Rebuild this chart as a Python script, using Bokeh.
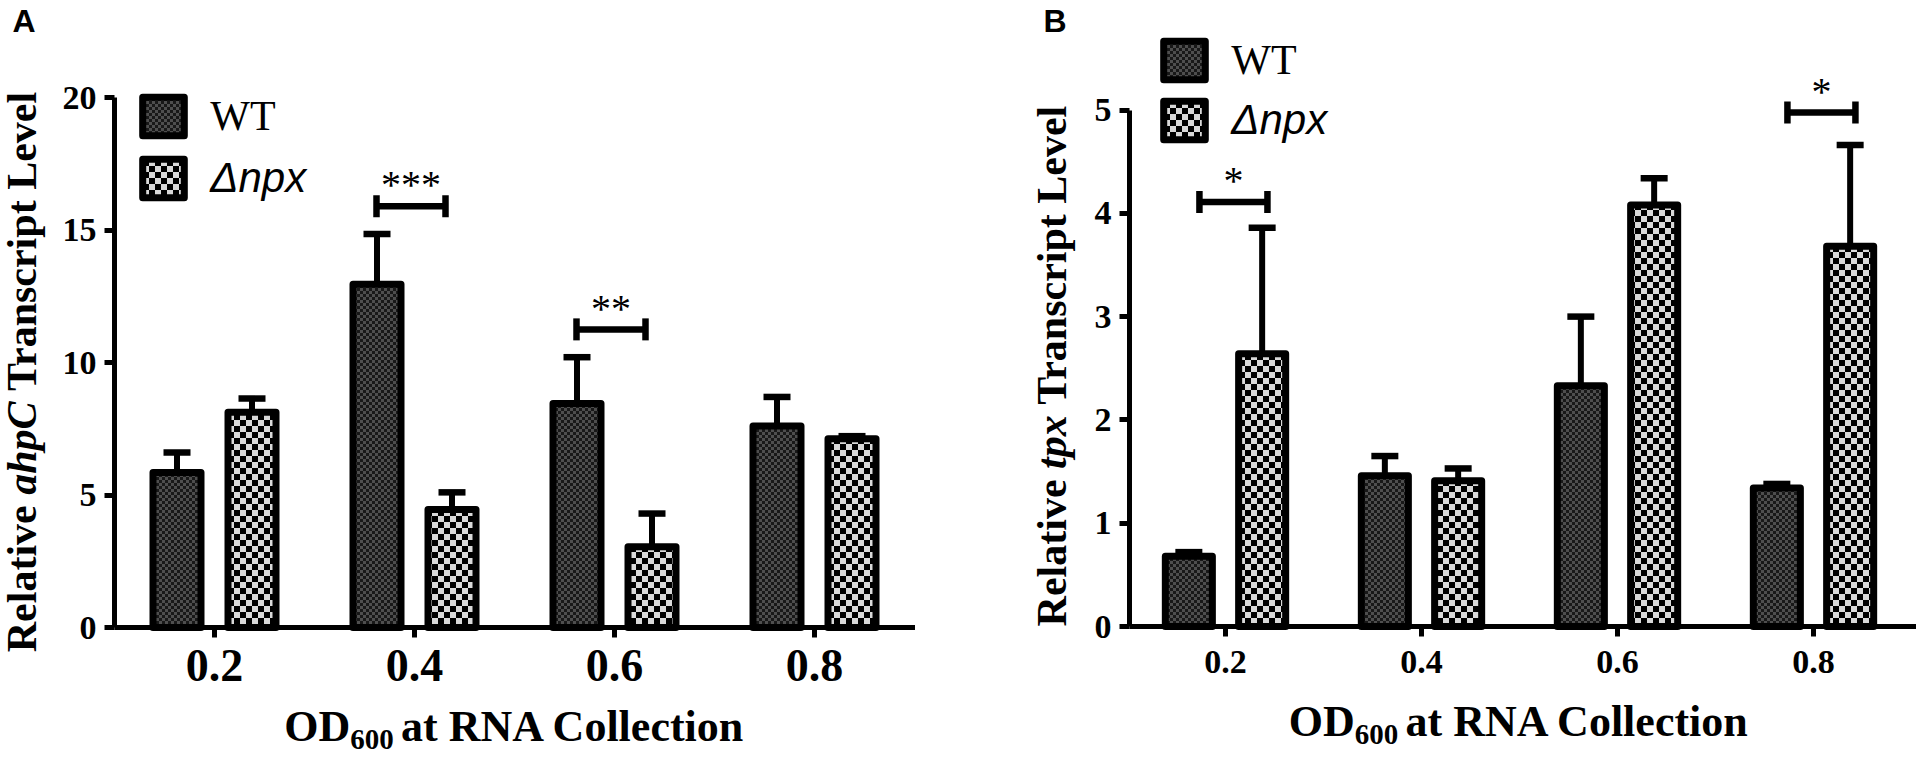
import math
import zlib
import struct
import base64
from bokeh.plotting import figure
from bokeh.models import Range1d, FixedTicker, Label, Legend, LegendItem, ImageURLTexture
from bokeh.layouts import row
from bokeh.core.properties import value
from bokeh.embed import file_html
from bokeh.resources import INLINE

# ---------------- data ----------------
od_labels = ["0.2", "0.4", "0.6", "0.8"]

# Panel A : relative ahpC transcript level
ahpc_wt_mean = [5.85, 12.95, 8.45, 7.6]
ahpc_wt_sem = [0.75, 1.9, 1.75, 1.1]
ahpc_npx_mean = [8.12, 4.45, 3.05, 7.12]
ahpc_npx_sem = [0.52, 0.65, 1.25, 0.1]
ahpc_sig_cat = [1, 2]
ahpc_sig_y = [15.9, 11.25]
ahpc_sig_text = ["***", "**"]

# Panel B : relative tpx transcript level
tpx_wt_mean = [0.68, 1.46, 2.33, 1.34]
tpx_wt_sem = [0.04, 0.19, 0.67, 0.04]
tpx_npx_mean = [2.64, 1.41, 4.08, 3.68]
tpx_npx_sem = [1.22, 0.12, 0.26, 0.98]
tpx_sig_cat = [0, 3]
tpx_sig_y = [4.11, 4.975]
tpx_sig_text = ["*", "*"]

# ---------------- font metrics (Times-like, per 1000 em) ----------------
BOLD = {' ': 250, 'R': 722, 'e': 444, 'l': 278, 'a': 500, 't': 333, 'i': 278, 'v': 500,
        'T': 667, 'r': 444, 'n': 556, 's': 389, 'c': 444, 'p': 556, 'L': 667, 'O': 778,
        'D': 722, 'N': 722, 'A': 722, 'C': 722, 'o': 500, '0': 500, '6': 500, 'h': 556, 'x': 500}
BOLDIT = {' ': 250, 'a': 500, 'h': 556, 'p': 500, 'C': 667, 't': 278, 'x': 500}


def tw(s, size, style):
    tab = BOLDIT if "italic" in style else BOLD
    return sum(tab[c] for c in s) / 1000.0 * size


SERIF = "Liberation Serif"
SANS = "Liberation Sans"
H = 757          # figure height (page has no margin)
KB = 0.33        # observed shift of the alphabetic anchor, in em


# ---------------- checker textures (PNG tiles) ----------------
def checker_png(cell, c_a, c_b):
    n = cell * 2
    rows = []
    for yy in range(n):
        line = bytearray(b"\x00")
        for xx in range(n):
            c = c_a if ((xx // cell) + (yy // cell)) % 2 == 0 else c_b
            line += bytes(c)
        rows.append(bytes(line))
    raw = b"".join(rows)

    def chunk(t, d):
        return struct.pack(">I", len(d)) + t + d + struct.pack(">I", zlib.crc32(t + d) & 0xffffffff)

    png = (b"\x89PNG\r\n\x1a\n" + chunk(b"IHDR", struct.pack(">IIBBBBB", n, n, 8, 2, 0, 0, 0))
           + chunk(b"IDAT", zlib.compress(raw)) + chunk(b"IEND", b""))
    return "data:image/png;base64," + base64.b64encode(png).decode()


WT_TEX = ImageURLTexture(url=checker_png(3, (78, 78, 78), (24, 24, 24)))
NPX_TEX = ImageURLTexture(url=checker_png(6, (0, 0, 0), (217, 217, 217)))


def make_panel(cfg):
    ppu, cpx = cfg["ppu"], cfg["cat_px"]
    W = cfg["width"]
    cat0, zero = cfg["cat0"], cfg["zero"]          # canvas px of category 0 / value 0
    p = figure(width=W, height=H,
               x_range=Range1d(-cat0 / cpx, (W - cat0) / cpx),
               y_range=Range1d(-(H - zero) / ppu, zero / ppu),
               min_border=0, min_border_left=0, min_border_right=0,
               min_border_top=0, min_border_bottom=0,
               output_backend="svg", toolbar_location=None)
    p.outline_line_color = None
    p.grid.visible = False
    p.background_fill_color = "white"
    p.border_fill_color = "white"

    def sy(cy):          # canvas y (from top) -> screen (frame) y
        return H - cy

    xs = list(range(len(od_labels)))
    off = cfg["offset"]
    series = [
        (cfg["wt_mean"], cfg["wt_sem"], -off, WT_TEX, "#333333"),
        (cfg["npx_mean"], cfg["npx_sem"], off, NPX_TEX, "#6e6e6e"),
    ]
    renderers = []
    for mean, sem, dx, tex, base in series:
        bx = [x + dx for x in xs]
        upper = [m + s for m, s in zip(mean, sem)]
        p.segment(x0=bx, y0=mean, x1=bx, y1=upper, line_color="black", line_width=6)
        r = p.vbar(x=bx, top=mean, bottom=0, width=0.24, fill_color=base,
                   line_color="black", line_width=7, line_join="round",
                   hatch_pattern="+", hatch_color="black",
                   hatch_extra={"+": tex, "cross": tex})
        p.scatter(x=bx, y=upper, marker="dash", size=27, line_color="black", line_width=6.5)
        renderers.append(r)

    # significance brackets
    half = 11.0 / ppu
    bl, br = cfg["br_left"], cfg["br_right"]
    sx0 = [c + bl for c in cfg["sig_cat"]]
    sx1 = [c + br for c in cfg["sig_cat"]]
    sy_ = cfg["sig_y"]
    p.segment(x0=sx0, y0=sy_, x1=sx1, y1=sy_, line_color="black", line_width=6.5)
    p.segment(x0=sx0, y0=[y - half for y in sy_], x1=sx0, y1=[y + half for y in sy_],
              line_color="black", line_width=6.5)
    p.segment(x0=sx1, y0=[y - half for y in sy_], x1=sx1, y1=[y + half for y in sy_],
              line_color="black", line_width=6.5)
    p.text(x=[(a + b) / 2 for a, b in zip(sx0, sx1)],
           y=[y + (8.0 + KB * 40) / ppu for y in sy_],
           text=cfg["sig_text"], text_font=value(SERIF), text_font_size=value("40px"),
           text_align="center", text_baseline="alphabetic", text_color="black")

    # axes (fixed in data space so the frame can hold every label)
    xax, yax = p.xaxis[0], p.yaxis[0]
    for ax in (xax, yax):
        ax.axis_line_width = 5
        ax.axis_line_color = "black"
        ax.major_tick_line_width = 5
        ax.major_tick_line_color = "black"
        ax.major_tick_in = 0
        ax.major_tick_out = 10
        ax.minor_tick_line_color = None
        ax.major_label_text_font = SERIF
        ax.major_label_text_font_style = "bold"
        ax.major_label_text_color = "black"
    x_start = (cfg["yaxis_cx"] - cat0) / cpx
    yax.fixed_location = x_start
    xax.fixed_location = 0
    yax.ticker = FixedTicker(ticks=cfg["yticks"])
    yax.bounds = (0, cfg["yticks"][-1])
    yax.major_label_text_font_size = "34px"
    yax.major_label_standoff = 8
    xax.ticker = FixedTicker(ticks=xs)
    xax.bounds = (x_start, (cfg["xaxis_end_cx"] - cat0) / cpx)
    xax.major_label_overrides = {i: lab for i, lab in enumerate(od_labels)}
    xax.major_label_text_font_size = cfg["xtick_size"]
    xax.major_label_standoff = cfg["xtick_standoff"]

    # y-axis title (rotated, mixed styles)
    ysize = 42
    parts = [("Relative", "bold"), (" ", "bold"), (cfg["gene"], "bold italic"), (" ", "bold"),
             ("Transcript Level", "bold")]
    total = sum(tw(t, ysize, st) for t, st in parts)
    pos = sy(cfg["ytitle_center_cy"]) - total / 2
    for t, st in parts:
        if t.strip():
            p.add_layout(Label(x=cfg["ytitle_cx"] - KB * ysize, y=pos, x_units="screen", y_units="screen",
                               text=t, angle=math.pi / 2, text_font=SERIF, text_font_style=st,
                               text_font_size=f"{ysize}px", text_align="left",
                               text_baseline="alphabetic", text_color="black"))
        pos += tw(t, ysize, st)

    # x-axis title with subscript
    big, small = 44, 29
    xparts = [("OD", big, 0), ("600", small, 8), (" ", small, 8), ("at RNA Collection", big, 0)]
    total = sum(tw(t, s, "bold") for t, s, _ in xparts)
    pos = cfg["xtitle_center_cx"] - total / 2
    for t, s, dy in xparts:
        if t.strip():
            base_cy = cfg["xtitle_cy"] + dy - KB * s
            p.add_layout(Label(x=pos, y=sy(base_cy), x_units="screen", y_units="screen",
                               text=t, text_font=SERIF, text_font_style="bold",
                               text_font_size=f"{s}px", text_align="left",
                               text_baseline="alphabetic", text_color="black"))
        pos += tw(t, s, "bold")

    # panel letter
    p.add_layout(Label(x=cfg["letter_cx"], y=sy(cfg["letter_cy"] - KB * 32), x_units="screen",
                       y_units="screen", text=cfg["letter"], text_font=SANS, text_font_style="bold",
                       text_font_size="32px", text_baseline="alphabetic", text_color="black"))

    # legend (one box per entry so each label keeps its own font)
    entries = [("WT", renderers[0], SERIF, "normal", cfg["leg_top"][0]),
               ("\u0394npx", renderers[1], SANS, "italic", cfg["leg_top"][1])]
    for lab, r, font, style, top in entries:
        loc = (cfg["leg_left"] - 1.7, sy(top - 1.3 + 48))
        p.add_layout(Legend(items=[LegendItem(label=lab, renderers=[r], index=0)],
                            location=loc, padding=0, margin=0, spacing=0,
                            glyph_width=52, glyph_height=48, label_height=48, label_width=10,
                            label_standoff=21, border_line_color=None, background_fill_alpha=0,
                            label_text_font=font, label_text_font_style=style,
                            label_text_font_size="42px", label_text_color="black"))
    return p


# geometry in canvas pixels of each figure (B starts at page x = 915)
cfgA = dict(width=915, ppu=26.5, cat_px=200.0, cat0=214.0, zero=627.0,
            yaxis_cx=114.0, xaxis_end_cx=915.0,
            offset=0.1875, wt_mean=ahpc_wt_mean, wt_sem=ahpc_wt_sem,
            npx_mean=ahpc_npx_mean, npx_sem=ahpc_npx_sem,
            sig_cat=ahpc_sig_cat, sig_y=ahpc_sig_y, sig_text=ahpc_sig_text,
            br_left=-0.19, br_right=0.155, yticks=[0, 5, 10, 15, 20],
            xtick_size="46px", xtick_standoff=12, gene="ahpC",
            ytitle_cx=35.0, ytitle_center_cy=370.0, xtitle_cy=741.0, xtitle_center_cx=514.5,
            letter="A", letter_cx=12.0, letter_cy=31.0,
            leg_left=139.0, leg_top=[93.0, 155.0])

cfgB = dict(width=1001, ppu=103.3, cat_px=196.0, cat0=310.0, zero=626.0,
            yaxis_cx=214.0, xaxis_end_cx=1001.0,
            offset=0.187, wt_mean=tpx_wt_mean, wt_sem=tpx_wt_sem,
            npx_mean=tpx_npx_mean, npx_sem=tpx_npx_sem,
            sig_cat=tpx_sig_cat, sig_y=tpx_sig_y, sig_text=tpx_sig_text,
            br_left=-0.133, br_right=0.214, yticks=[0, 1, 2, 3, 4, 5],
            xtick_size="34px", xtick_standoff=14, gene="tpx",
            ytitle_cx=150.0, ytitle_center_cy=364.0, xtitle_cy=736.0, xtitle_center_cx=604.0,
            letter="B", letter_cx=128.0, letter_cy=31.0,
            leg_left=245.0, leg_top=[37.0, 97.0])

pA = make_panel(cfgA)
pB = make_panel(cfgB)
layout = row(pA, pB)

open("out.html", "w").write(file_html(layout, INLINE))
